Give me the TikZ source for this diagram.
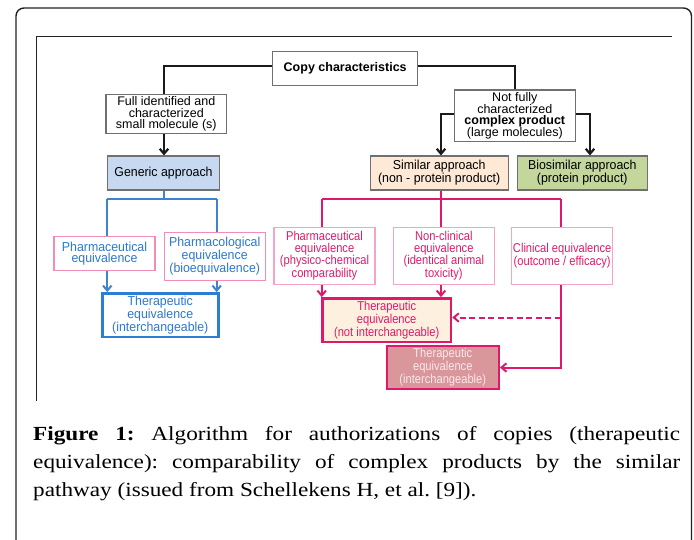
\documentclass[tikz,border=0pt]{standalone}
\usepackage{fontspec}
\setmainfont{Liberation Sans}
\newfontfamily\bluefont[FakeStretch=0.95]{Liberation Sans}
\newfontfamily\pinkfont[FakeStretch=0.87]{Liberation Sans}
\newfontfamily\capfont[FakeStretch=1.16]{Liberation Serif}
\usetikzlibrary{arrows.meta,calc}
\definecolor{framecol}{HTML}{222222}
\definecolor{boxgray}{HTML}{707070}
\definecolor{lineblk}{HTML}{1A1A1A}
\definecolor{blueline}{HTML}{3F82CE}
\definecolor{bluetext}{HTML}{2B78D0}
\definecolor{blueborder}{HTML}{2D7DD2}
\definecolor{pinkline}{HTML}{E0186C}
\definecolor{pinktext}{HTML}{E01A6A}
\definecolor{pinkborderA}{HTML}{F08DB8}
\definecolor{pinkborderB}{HTML}{F5A3C7}
\definecolor{genericfill}{HTML}{C6D9F1}
\definecolor{similarfill}{HTML}{FDE9D5}
\definecolor{biosimfill}{HTML}{C3D69B}
\definecolor{thnotfill}{HTML}{FEF0DF}
\definecolor{thintfill}{HTML}{D9969B}
\definecolor{thinttext}{HTML}{FCE8EC}
\tikzset{
  tip/.style={-{Straight Barb[length=5pt,width=8.5pt]}},
  box/.style={draw=boxgray, line width=1.1pt, inner sep=0pt, align=center,
    font=\fontsize{12.5}{11.7}\selectfont},
  pbox/.style={draw=pinkborderB, line width=1.1pt, inner sep=0pt, align=center,
    text=pinktext, font=\pinkfont\fontsize{12.8}{11.7}\selectfont},
  bbox/.style={draw=pinkborderA, line width=1.1pt, inner sep=0pt, align=center,
    text=bluetext, font=\bluefont\fontsize{13}{11.7}\selectfont},
  blk/.style={draw=lineblk, line width=2.2pt},
  bln/.style={draw=blueline, line width=2pt},
  pkl/.style={draw=pinkline, line width=2pt},
}
\begin{document}
\begin{tikzpicture}[x=1pt,y=-1pt]
\useasboundingbox (0,0) rectangle (694,539);
\clip (0,0) rectangle (694,539);
% frames
\draw[framecol, line width=1.4pt, rounded corners=8pt] (16,560) -- (16,8) -- (691.5,8) -- (691.5,560);
\draw[framecol, line width=1pt] (36,401) -- (36,36) -- (672,36);
% top level
\node[box, font=\fontsize{12.5}{11.7}\selectfont\bfseries, minimum width=145pt, minimum height=33.6pt] (copy) at (345.2,68.5) {Copy characteristics};
\node[box, minimum width=120.7pt, minimum height=39pt] (full) at (166.3,113.8) {Full identified and\\characterized\\small molecule (s)};
\node[box, minimum width=121pt, minimum height=51.7pt] (notfully) at (514.8,115.8) {Not fully\\characterized\\\textbf{complex product}\\(large molecules)};
\node[box, fill=genericfill, font=\bluefont\fontsize{13}{11.7}\selectfont, minimum width=111.6pt, minimum height=34pt] (generic) at (163.5,173) {Generic approach};
\node[box, fill=similarfill, font=\bluefont\fontsize{13}{11.7}\selectfont, minimum width=138.3pt, minimum height=34pt] (similar) at (439.2,173) {Similar approach\\(non - protein product)};
\node[box, fill=biosimfill, font=\bluefont\fontsize{13}{11.7}\selectfont, minimum width=130pt, minimum height=34pt] (biosim) at (582.3,173) {Biosimilar approach\\(protein product)};
% left branch
\node[bbox, minimum width=101pt, minimum height=33.6pt] (pheq) at (104.5,253.5) {Pharmaceutical\\equivalence};
\node[bbox, minimum width=100.7pt, minimum height=47.7pt] (phcol) at (214.7,256.2) {Pharmacological\\equivalence\\(bioequivalence)};
\node[bbox, draw=blueborder, line width=2.4pt, minimum width=116pt, minimum height=43.4pt] (thblue) at (160.3,315) {Therapeutic\\equivalence\\(interchangeable)};
% right branch
\node[pbox, minimum width=101pt, minimum height=57pt] (pheqb) at (324.5,255.8) {Pharmaceutical\\equivalence\\(physico-chemical\\comparability};
\node[pbox, minimum width=101pt, minimum height=57pt] (noncl) at (443.8,255.8) {Non-clinical\\equivalence\\(identical animal\\toxicity)};
\node[pbox, minimum width=101pt, minimum height=57pt] (clin) at (562.2,255.8) {Clinical equivalence\\(outcome / efficacy)};
\node[pbox, draw=pinkline, line width=2.4pt, fill=thnotfill, minimum width=128.7pt, minimum height=43.4pt] (thnot) at (386.7,320) {Therapeutic\\equivalence\\(not interchangeable)};
\node[pbox, draw=pinkline, line width=2pt, fill=thintfill, text=thinttext, minimum width=112.3pt, minimum height=43pt] (thint) at (442.8,367.5) {Therapeutic\\equivalence\\(interchangeable)};
% junction coordinates
\coordinate (lx) at (164,66);
\coordinate (rx) at (441,114);
\coordinate (bx) at (590,114);
\coordinate (bl) at (107.3,199.3);
\coordinate (br) at (216.7,199.3);
\coordinate (pl) at (321.7,199.3);
\coordinate (pm) at (441,199.3);
\coordinate (pr) at (560.7,199.3);
% black connectors
\draw[blk] (copy.west |- lx) -- (lx) -- (lx |- full.north);
\draw[blk, tip] (lx |- full.south) -- (lx |- generic.north);
\draw[blk] (copy.east |- lx) -| (notfully.north);
\draw[blk, tip] (notfully.west |- rx) -- (rx) -- (rx |- similar.north);
\draw[blk, tip] (notfully.east |- bx) -- (bx) -- (bx |- biosim.north);
% blue connectors
\draw[bln] (generic.south) -- (generic.south |- bl);
\draw[bln] (bl) -- (br);
\draw[bln] (bl) -- (bl |- pheq.north);
\draw[bln] (br) -- (br |- phcol.north);
\draw[bln, tip] (bl |- pheq.south) -- (bl |- thblue.north);
\draw[bln, tip] (br |- phcol.south) -- (br |- thblue.north);
% pink connectors
\draw[pkl] (pm |- similar.south) -- (pm |- noncl.north);
\draw[pkl] (pl) -- (pr);
\draw[pkl] (pl) -- (pl |- pheqb.north);
\draw[pkl] (pr) -- (pr |- clin.north);
\draw[pkl, tip] (pl |- pheqb.south) -- (pl |- thnot.north);
\draw[pkl, tip] (pm |- noncl.south) -- (pm |- thnot.north);
\draw[pkl, tip] (pr |- clin.south) -- (pr |- thint.east) -- (thint.east);
\draw[pkl, tip, dash pattern=on 6pt off 3.5pt] ($(pr |- thnot.east)+(0,-2.5)$) -- ($(thnot.east)+(0,-2.5)$);
% caption
\node[anchor=north west, inner sep=0pt, text width=647pt, align=justify,
  font=\capfont\fontsize{20}{28.3}\selectfont] (cap) at (33,426)
  {\frenchspacing\textbf{Figure 1:} Algorithm for authorizations of copies (therapeutic\linebreak
   equivalence): comparability of complex products by the similar\linebreak
   pathway (issued from Schellekens H, et al. [9]).};
\end{tikzpicture}
\end{document}
